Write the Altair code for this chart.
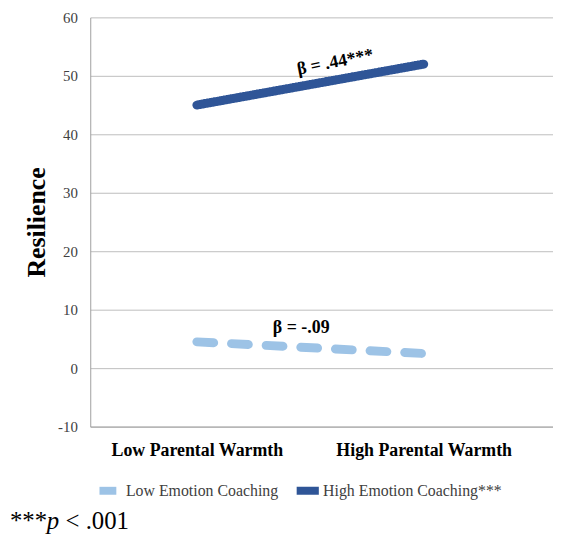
import altair as alt
import pandas as pd

# Data
warmth_levels = ["Low Parental Warmth", "High Parental Warmth"]
warmth_pos = [0, 1]
series_names = ["Low Emotion Coaching", "High Emotion Coaching***"]
low_ec_values = [4.5, 2.5]
high_ec_values = [45, 52]

ann_text = ["β = .44***", "β = -.09"]
ann_x = [0.61, 0.46]
ann_y = [52.3, 6.9]
ann_angle = [349, 0]

rows = []
for p, v in zip(warmth_pos, low_ec_values):
    rows.append({"x": p, "y": v, "series": series_names[0]})
for p, v in zip(warmth_pos, high_ec_values):
    rows.append({"x": p, "y": v, "series": series_names[1]})
df = pd.DataFrame(rows)
ann = pd.DataFrame({"x": ann_x, "y": ann_y, "text": ann_text, "angle": ann_angle})

SERIF = "Liberation Serif"
W, H = 467, 413

xscale = alt.Scale(domain=[-0.47, 1.57], nice=False, zero=False)
yscale = alt.Scale(domain=[-10, 60], nice=False)

label_expr = "datum.value == 0 ? '%s' : '%s'" % (warmth_levels[0], warmth_levels[1])

lines = alt.Chart(df).mark_line(strokeWidth=9, strokeCap="round").encode(
    x=alt.X("x:Q", scale=xscale,
            axis=alt.Axis(values=warmth_pos, labelExpr=label_expr, title=None, grid=False,
                          ticks=False, labelFont=SERIF, labelFontSize=18, labelFontWeight="bold",
                          labelColor="black", labelPadding=15, domainColor="#a0a0a0")),
    y=alt.Y("y:Q", scale=yscale,
            axis=alt.Axis(values=list(range(-10, 61, 10)), labelExpr="datum.value + ''",
                          title="Resilience", titleFont=SERIF,
                          titleFontSize=26, titleFontWeight="bold", titleColor="black",
                          titlePadding=8, labelFont=SERIF, labelFontSize=15, labelColor="#404040",
                          labelPadding=13, ticks=False, gridColor="#bdbdbd", domainColor="#a0a0a0")),
    color=alt.Color("series:N", scale=alt.Scale(domain=series_names, range=["#9DC3E6", "#2F5597"]),
                    legend=alt.Legend(orient="none", legendX=5, legendY=462, direction="horizontal",
                                      title=None, symbolType="stroke", symbolSize=500,
                                      symbolStrokeWidth=8, labelFont=SERIF, labelFontSize=16,
                                      labelColor="#404040", columnPadding=2, labelOffset=0,
                                      labelLimit=0)),
    strokeDash=alt.StrokeDash("series:N", scale=alt.Scale(domain=series_names, range=[[17, 18], [1, 0]]),
                              legend=None),
)

labels = alt.Chart(ann).mark_text(font=SERIF, fontSize=18, fontWeight="bold", color="black").encode(
    x=alt.X("x:Q", scale=xscale),
    y=alt.Y("y:Q", scale=yscale),
    text="text:N",
    angle=alt.Angle("angle:Q", scale=None),
)

foot_base = alt.Chart(pd.DataFrame({"a": [0]}))
f1 = foot_base.mark_text(text="***", font=SERIF, fontSize=25, align="left", baseline="alphabetic",
                         color="black").encode(x=alt.value(-81), y=alt.value(516))
f2 = foot_base.mark_text(text="p", font=SERIF, fontSize=25, fontStyle="italic", align="left",
                         baseline="alphabetic", color="black").encode(x=alt.value(-44), y=alt.value(516))
f3 = foot_base.mark_text(text="< .001", font=SERIF, fontSize=25, align="left", baseline="alphabetic",
                         color="black").encode(x=alt.value(-25), y=alt.value(516))

chart = alt.layer(lines, labels, f1, f2, f3).properties(
    width=W, height=H,
    autosize=alt.AutoSizeParams(type="none"),
    padding={"left": 83, "top": 7, "right": 0, "bottom": 115},
).configure_view(stroke=None)

chart.save("out.html", embed_options={"renderer": "svg", "actions": False})
